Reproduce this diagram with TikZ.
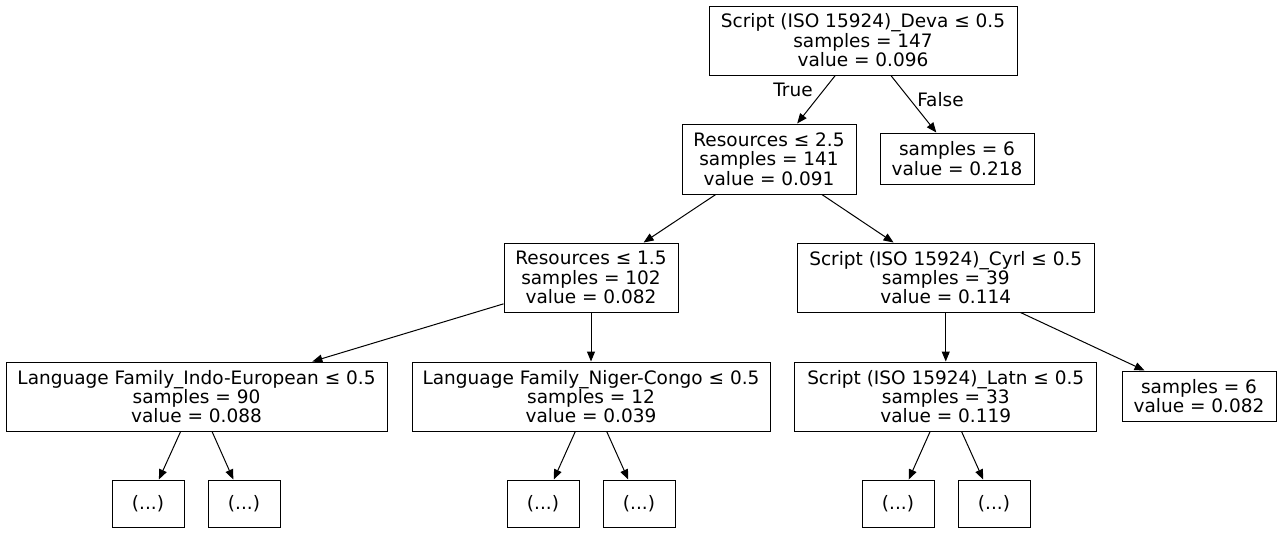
\documentclass[tikz,border=0pt]{standalone}
\usepackage{fontspec}
\setmainfont{DejaVu Sans}
\usetikzlibrary{arrows.meta}
\tikzset{
  tnode/.style={draw=black, line width=1pt, rectangle, align=center, inner sep=0pt,
    font=\fontsize{18.5}{19.4}\selectfont},
  edge/.style={draw=black, line width=1pt, -{Triangle[length=10pt,width=8pt]}},
  elabel/.style={anchor=base, font=\fontsize{18.5}{19.4}\selectfont}
}
\begin{document}
\begin{tikzpicture}[x=1pt,y=-1pt]
\useasboundingbox (0,0) rectangle (1282,533);
\fill[white] (0,0) rectangle (1282,533);
\node[tnode, minimum width=308pt, minimum height=69pt] (root) at (863,40.5) {Script (ISO 15924)\_Deva ≤ 0.5\\samples = 147\\value = 0.096};
\node[tnode, minimum width=174pt, minimum height=70pt] (r25) at (769,159) {Resources ≤ 2.5\\samples = 141\\value = 0.091};
\node[tnode, minimum width=154pt, minimum height=51pt] (f1) at (957,158.5) {samples = 6\\value = 0.218};
\node[tnode, minimum width=174pt, minimum height=69pt] (r15) at (591,277.5) {Resources ≤ 1.5\\samples = 102\\value = 0.082};
\node[tnode, minimum width=297pt, minimum height=69pt] (cyrl) at (945.75,277.5) {Script (ISO 15924)\_Cyrl ≤ 0.5\\samples = 39\\value = 0.114};
\node[tnode, minimum width=381pt, minimum height=69pt] (ie) at (196.5,396.5) {Language Family\_Indo-European ≤ 0.5\\samples = 90\\value = 0.088};
\node[tnode, minimum width=358pt, minimum height=69pt] (nc) at (591,396.5) {Language Family\_Niger-Congo ≤ 0.5\\samples = 12\\value = 0.039};
\node[tnode, minimum width=302pt, minimum height=69pt] (latn) at (945.75,396.5) {Script (ISO 15924)\_Latn ≤ 0.5\\samples = 33\\value = 0.119};
\node[tnode, minimum width=154pt, minimum height=50pt] (f2) at (1199,396) {samples = 6\\value = 0.082};
\node[tnode, minimum width=72pt, minimum height=47pt] (d1) at (148,503.5) {(...)};
\node[tnode, minimum width=72pt, minimum height=47pt] (d2) at (244,503.5) {(...)};
\node[tnode, minimum width=72pt, minimum height=47pt] (d3) at (543,503.5) {(...)};
\node[tnode, minimum width=72pt, minimum height=47pt] (d4) at (639,503.5) {(...)};
\node[tnode, minimum width=72pt, minimum height=47pt] (d5) at (898,503.5) {(...)};
\node[tnode, minimum width=72pt, minimum height=47pt] (d6) at (994,503.5) {(...)};
\draw[edge] (root) -- (r25);
\draw[edge] (root) -- (f1);
\draw[edge] (r25) -- (r15);
\draw[edge] (r25) -- (cyrl);
\draw[edge] (r15) -- (ie);
\draw[edge] (r15) -- (nc);
\draw[edge] (cyrl) -- (latn);
\draw[edge] (cyrl) -- (f2);
\draw[edge] (ie) -- (d1);
\draw[edge] (ie) -- (d2);
\draw[edge] (nc) -- (d3);
\draw[edge] (nc) -- (d4);
\draw[edge] (latn) -- (d5);
\draw[edge] (latn) -- (d6);
\node[elabel] (tl) at (793,96.5) {True};
\node[elabel] (fl) at (940.5,106.5) {False};
\end{tikzpicture}
\end{document}
